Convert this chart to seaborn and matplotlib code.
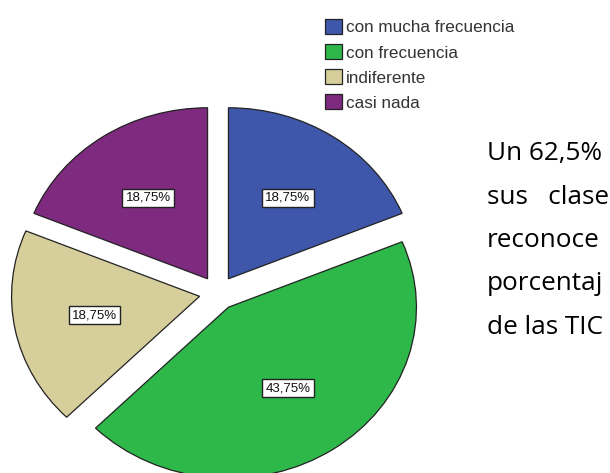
import matplotlib
matplotlib.use("Agg")
import matplotlib.pyplot as plt
import seaborn as sns

# datos del grafico
categorias = ["con mucha frecuencia", "con frecuencia", "indiferente", "casi nada"]
porcentajes = [18.75, 43.75, 18.75, 18.75]
colores = ["#3E57AA", "#2DB849", "#D6CF9C", "#7E2A7E"]
# texto del documento a la derecha (solo lo que se ve)
lineas = ["Un 62,5%", "sus   clase", "reconoce", "porcentaj", "de las TIC"]

sns.set_theme(style="white")
plt.rcParams['font.family'] = ['Liberation Sans', 'DejaVu Sans']

fig = plt.figure(figsize=(6.1, 4.73), dpi=100)
ax = fig.add_axes([0, 0, 1, 1])

wedges, textos, autotextos = ax.pie(
    porcentajes, colors=colores, startangle=90, counterclock=False,
    explode=[0.1] * len(porcentajes),
    autopct=lambda p: f"{p:.2f}%".replace(".", ","), pctdistance=0.57,
    wedgeprops=dict(edgecolor="#222222", linewidth=0.9),
    textprops=dict(fontsize=9.5, color="#111111"))
for t in autotextos:
    t.set_bbox(dict(facecolor="white", edgecolor="#222222", linewidth=1.0, pad=2.2))

# la imagen original esta algo estirada en horizontal
ax.set_aspect("auto")
ax.set_xlim(-218 / 188, 392 / 188)
ax.set_ylim(-180 / 171, 293 / 171)
ax.axis("off")

fig.legend(wedges, categorias, loc="upper left", bbox_to_anchor=(325 / 610, 1 - 19 / 473),
           frameon=False, fontsize=12.3, handlelength=1.0, handleheight=1.0,
           handletextpad=0.2, labelspacing=0.5, borderpad=0, borderaxespad=0,
           labelcolor="#333333")

for i, linea in enumerate(lineas):
    fig.text(487 / 610, 1 - (160 + 43.5 * i) / 473, linea, fontsize=18.8,
             family="Open Sans", color="black", va="baseline")

fig.savefig("out.png", dpi=100)
